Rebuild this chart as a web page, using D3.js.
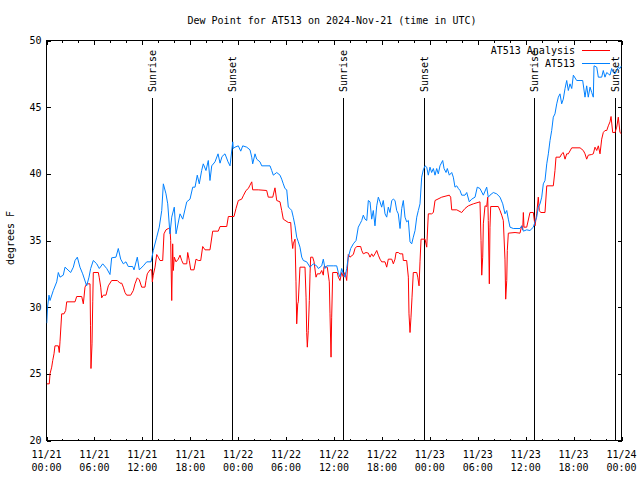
<!DOCTYPE html>
<html><head><meta charset="utf-8">
<script src="https://cdn.jsdelivr.net/npm/d3@7"></script>
<style>
html,body{margin:0;padding:0;background:#fff;}
text{font-family:"DejaVu Sans Mono","Liberation Mono",monospace;font-size:10px;fill:#000;}
</style></head>
<body>
<svg id="chart" width="640" height="480"></svg>
<script>
const title = "Dew Point for AT513 on 2024-Nov-21 (time in UTC)";
const yLabel = "degrees F";
const xTickHours = [0,6,12,18,24,30,36,42,48,54,60,66,72];
const xTickDates = ["11/21","11/21","11/21","11/21","11/22","11/22","11/22","11/22","11/23","11/23","11/23","11/23","11/24"];
const xTickTimes = ["00:00","06:00","12:00","18:00","00:00","06:00","12:00","18:00","00:00","06:00","12:00","18:00","00:00"];
const yTicks = [20,25,30,35,40,45,50];
const sunHours = [13.15,23.23,37.13,47.27,61.05,71.19];
const sunLabels = ["Sunrise","Sunset","Sunrise","Sunset","Sunrise","Sunset"];
const seriesNames = ["AT513 Analysis","AT513"];
const seriesColors = ["#ff0000","#0080ff"];

const anaHours = [0.03,0.35,0.44,0.65,0.78,0.94,1.06,1.48,1.60,1.69,1.90,2.19,2.40,2.53,3.57,3.78,4.41,4.61,4.82,5.03,5.45,5.51,5.57,5.70,5.79,5.86,6.49,6.61,6.79,6.91,7.11,7.45,7.74,8.16,8.87,9.20,9.42,9.62,9.83,10.04,10.54,10.87,11.08,11.37,11.62,11.92,12.33,12.46,12.62,12.96,13.17,13.25,13.37,13.59,13.80,14.00,14.21,14.55,14.71,14.96,15.25,15.46,15.55,15.68,15.80,15.88,16.00,16.22,16.50,16.72,16.93,17.13,17.56,17.68,17.88,18.06,18.47,18.72,19.01,19.31,19.56,19.85,20.47,20.81,21.51,21.73,22.57,22.77,23.48,23.73,24.02,24.44,24.64,24.98,25.27,25.48,25.70,25.82,26.52,27.57,27.77,28.33,28.61,28.83,29.24,29.45,29.65,30.28,30.58,30.70,30.83,30.90,31.12,31.24,31.33,31.46,31.53,31.74,32.37,32.50,32.58,32.66,32.78,32.91,33.00,33.08,33.33,33.50,33.75,33.91,34.25,34.46,34.66,34.75,35.16,35.41,35.50,35.63,35.71,35.84,36.41,36.54,36.75,36.96,37.17,37.38,37.59,37.79,38.00,38.42,38.63,38.84,39.34,39.47,39.67,40.01,40.30,40.51,40.72,40.92,41.13,41.35,41.55,41.76,41.97,42.39,42.60,42.80,43.23,43.43,43.64,43.77,44.05,44.27,44.60,44.68,45.10,45.31,45.39,45.52,45.64,45.77,45.93,46.36,46.49,46.65,46.77,46.90,47.40,47.61,47.81,48.23,48.44,48.65,49.49,50.44,50.61,50.74,51.37,51.99,52.40,52.82,53.45,54.28,54.41,54.50,54.62,54.70,54.91,55.12,55.25,55.32,55.45,55.53,55.62,56.57,56.79,57.00,57.20,57.41,57.50,57.63,57.70,57.83,58.67,59.29,59.50,59.63,59.71,59.79,60.13,60.54,60.96,61.17,61.38,61.58,61.71,61.88,62.42,62.64,63.46,63.67,63.80,64.30,64.51,64.71,64.93,65.14,65.34,65.77,66.81,67.22,67.43,67.64,67.84,68.27,68.47,68.68,68.90,69.10,69.31,69.52,69.72,69.93,70.15,70.35,70.56,70.69,70.90,71.19,71.40,71.60,71.81,72.00];
const anaDew = [24.25,24.25,25.0,25.5,26.0,26.5,27.1,27.1,26.6,27.4,29.5,29.5,29.75,30.4,30.4,30.8,30.8,30.25,31.5,31.75,31.75,28.6,25.4,27.25,30.4,32.6,32.6,32.2,31.5,30.7,30.9,30.9,31.6,32.0,32.0,31.8,31.8,31.5,31.1,30.9,30.9,31.25,31.75,32.2,32.05,31.5,31.5,32.0,32.5,32.8,32.8,31.9,32.4,33.0,33.95,33.75,33.5,33.5,35.5,35.8,35.9,35.9,35.0,30.5,34.75,32.75,33.75,33.4,33.6,33.9,33.5,33.25,33.25,34.1,33.5,32.8,32.8,33.6,33.5,33.5,34.55,34.3,34.3,35.7,35.7,36.05,36.05,36.8,36.8,37.4,38.0,38.1,38.35,38.75,38.9,39.15,39.4,38.8,38.8,38.75,38.25,38.25,38.95,38.0,37.9,37.25,36.6,36.35,36.35,35.1,34.4,34.75,35.1,31.9,28.75,30.25,30.4,33.0,33.0,30.75,28.1,27.0,28.25,30.5,32.5,33.75,33.75,33.4,32.25,32.5,32.5,32.75,32.4,33.05,33.0,31.9,29.5,26.25,29.25,32.6,32.6,32.25,32.0,32.6,32.25,32.6,32.0,33.95,33.75,33.95,34.4,34.55,34.55,34.25,34.0,34.1,34.05,33.75,34.0,33.8,34.0,34.25,33.9,33.6,33.4,33.4,33.0,33.6,33.6,33.25,33.6,34.1,34.1,34.0,34.0,33.5,33.5,32.25,29.5,28.1,29.25,30.75,32.6,32.6,32.25,31.6,33.4,35.1,35.1,34.5,37.0,37.0,37.1,38.0,38.25,38.4,38.25,37.3,37.3,37.1,37.4,37.6,37.75,37.9,35.0,32.4,33.75,36.25,37.6,37.55,38.25,36.5,31.75,36.0,37.55,37.55,37.25,36.9,36.5,33.6,30.6,32.0,34.25,35.55,35.6,35.55,36.1,35.8,37.1,36.0,36.0,37.1,37.1,36.1,37.0,38.25,37.25,37.1,37.1,39.1,39.1,40.25,41.25,41.25,41.5,41.6,41.1,41.5,41.5,41.95,41.95,41.75,41.5,41.1,41.4,41.45,41.5,42.0,41.75,42.1,41.5,42.6,43.1,43.25,43.25,43.6,43.9,44.3,43.1,43.1,43.5,44.25,43.1,43.0];

const obsHours = [0.03,0.13,0.31,0.44,0.85,1.28,1.48,1.69,2.10,2.32,3.03,3.36,3.57,3.86,4.19,4.53,5.03,5.32,5.53,5.86,6.29,6.61,7.04,7.54,7.95,8.16,8.70,8.99,9.29,9.62,9.95,10.24,10.79,10.96,11.37,11.62,12.12,12.55,13.09,13.37,13.80,14.12,14.43,14.63,14.96,15.18,15.46,15.68,16.00,16.22,16.72,17.06,17.56,17.97,18.31,18.60,18.88,19.13,19.43,19.63,19.97,20.26,20.47,20.69,21.10,21.48,21.73,21.98,22.35,22.73,22.98,23.32,23.39,23.60,24.02,24.32,24.57,25.07,25.48,25.70,25.82,26.11,26.32,26.73,26.95,27.99,28.20,28.40,28.83,29.24,29.45,29.65,29.86,30.08,30.28,30.49,30.70,30.90,31.12,31.33,31.53,31.74,31.96,32.16,32.58,33.00,33.41,33.83,34.04,34.46,34.66,34.87,35.09,35.91,36.34,36.54,36.75,36.96,37.17,37.38,37.59,37.79,38.09,38.42,38.76,39.04,39.26,39.47,39.67,39.88,40.10,40.30,40.51,40.72,40.92,41.13,41.35,41.55,41.76,41.97,42.17,42.39,42.60,42.80,43.01,43.23,43.43,43.64,43.85,44.05,44.27,44.48,44.68,44.89,45.10,45.31,45.52,45.73,45.93,46.15,46.36,46.56,46.77,46.98,47.18,47.40,47.61,47.81,48.02,48.23,48.44,48.65,48.86,49.06,49.27,49.61,49.78,50.03,50.19,50.44,50.74,50.94,51.15,51.37,51.57,51.78,51.99,52.40,52.62,52.94,53.24,53.66,53.94,54.28,54.70,55.12,55.32,55.53,55.95,56.37,56.79,57.13,57.41,57.63,57.83,58.04,58.45,59.29,59.50,59.71,60.13,60.54,60.96,61.17,61.38,61.58,61.80,62.01,62.21,62.42,62.64,62.84,63.05,63.26,63.46,63.67,63.89,64.09,64.30,64.51,64.71,64.93,65.14,65.34,65.55,65.77,65.97,66.39,66.81,67.14,67.43,67.64,67.84,68.06,68.27,68.47,68.56,68.90,69.10,69.52,69.72,69.93,70.15,70.35,70.56,70.77,70.98,71.19,71.40,71.60,71.81,72.00];
const obsDew = [28.8,30.0,30.9,30.5,31.25,31.9,32.6,32.25,32.4,33.0,32.6,33.0,33.5,33.75,33.0,32.5,31.6,32.25,32.9,33.5,33.25,32.9,33.25,32.9,32.45,33.7,33.75,34.4,33.6,33.25,33.4,33.05,33.05,32.8,33.75,32.8,33.1,33.4,33.4,34.25,35.25,36.0,37.25,39.25,38.5,37.75,35.5,36.75,37.5,35.5,37.0,36.6,37.9,38.1,39.0,39.0,39.9,39.25,40.25,40.75,40.25,41.0,39.5,40.6,40.9,41.5,40.8,41.3,41.5,40.9,40.6,42.4,41.9,42.0,42.1,41.7,42.1,42.0,41.8,41.25,40.75,41.5,41.1,40.9,40.6,40.6,40.25,39.9,40.1,39.9,39.6,39.25,38.9,38.8,37.5,37.4,37.25,36.75,36.1,35.25,34.9,34.5,33.75,33.5,33.4,33.0,33.25,33.1,32.9,33.1,33.6,32.9,33.1,33.1,33.1,32.6,32.25,32.9,32.5,32.25,32.9,33.75,34.4,34.75,35.0,36.0,36.25,36.5,36.9,36.6,36.5,38.0,37.9,36.6,37.25,36.1,37.6,38.25,37.9,37.5,38.0,37.0,36.75,37.5,37.1,38.0,38.1,38.0,37.25,37.0,35.9,37.4,38.0,36.75,36.4,36.5,34.9,34.75,35.25,35.75,36.75,37.25,37.75,39.75,40.3,40.6,40.5,39.9,40.5,40.1,40.4,39.9,40.4,40.0,40.6,41.0,40.4,40.1,40.4,39.9,40.1,39.75,39.0,39.1,38.9,38.75,38.4,38.4,38.6,37.9,38.1,38.25,39.0,38.9,38.4,39.0,38.25,38.4,38.6,38.5,38.25,37.75,37.0,37.25,36.6,36.0,35.9,35.9,36.1,35.7,35.8,35.75,36.0,36.4,36.75,37.5,37.75,38.25,39.25,39.5,40.75,41.5,42.5,43.25,44.25,44.5,45.25,45.75,46.0,45.25,45.6,46.4,47.0,46.25,46.75,46.4,47.4,47.0,47.0,47.0,45.75,46.6,45.75,46.5,46.1,45.75,48.1,48.0,47.25,47.25,47.75,47.25,47.6,47.5,47.4,47.9,47.6,47.5,47.75,48.0,47.9,48.1];

const svg = d3.select("#chart");
const L = 46.5, R = 621.5, T = 40.5, B = 440.5;
const x = d3.scaleLinear().domain([0,72]).range([L,R]);
const y = d3.scaleLinear().domain([20,50]).range([B,T]);

svg.append("rect").attr("width",640).attr("height",480).attr("fill","#fff");

// title
svg.append("text").attr("x",332).attr("y",24).attr("text-anchor","middle").text(title);

// y label
svg.append("text").attr("transform","translate(14,238) rotate(-90)").attr("text-anchor","middle").text(yLabel);

const g = svg.append("g").attr("shape-rendering","crispEdges");

// x ticks every 2h (major every 6h)
const minorX = d3.range(0,73,2);
minorX.forEach(h => {
  const len = (h % 6 === 0) ? 4 : 2;
  const xx = Math.round(x(h))+0.5;
  g.append("line").attr("x1",xx).attr("x2",xx).attr("y1",B).attr("y2",B-len).attr("stroke","#000");
  g.append("line").attr("x1",xx).attr("x2",xx).attr("y1",T).attr("y2",T+len).attr("stroke","#000");
});
yTicks.forEach(v => {
  const yy = Math.round(y(v))+0.5;
  g.append("line").attr("x1",L).attr("x2",L+4).attr("y1",yy).attr("y2",yy).attr("stroke","#000");
  g.append("line").attr("x1",R).attr("x2",R-4).attr("y1",yy).attr("y2",yy).attr("stroke","#000");
  svg.append("text").attr("x",L-5).attr("y",y(v)).attr("dy","0.35em").attr("text-anchor","end").text(v);
});

xTickHours.forEach((h,i) => {
  const t = svg.append("text").attr("x",x(h)).attr("y",458).attr("text-anchor","middle");
  t.append("tspan").attr("x",x(h)).text(xTickDates[i]);
  t.append("tspan").attr("x",x(h)).attr("dy",13).text(xTickTimes[i]);
});

// sunrise / sunset
sunHours.forEach((h,i) => {
  const xx = Math.round(x(h))+0.5;
  g.append("line").attr("x1",xx).attr("x2",xx).attr("y1",98).attr("y2",B).attr("stroke","#000");
  svg.append("text").attr("transform",`translate(${xx+3.5},92) rotate(-90)`).attr("text-anchor","start").text(sunLabels[i]);
});

// frame
g.append("rect").attr("x",L).attr("y",T).attr("width",R-L).attr("height",B-T).attr("fill","none").attr("stroke","#000");

// series
const line = d3.line().x(d=>x(d[0])).y(d=>y(d[1]));
const series = [
  anaHours.map((h,i)=>[h,anaDew[i]]),
  obsHours.map((h,i)=>[h,obsDew[i]])
];
svg.append("clipPath").attr("id","clip").append("rect").attr("x",L).attr("y",T).attr("width",R-L).attr("height",B-T);
series.forEach((s,i) => {
  svg.append("path").attr("d",line(s)).attr("fill","none").attr("stroke",seriesColors[i]).attr("stroke-width",1).attr("clip-path","url(#clip)");
});

// legend
seriesNames.forEach((n,i) => {
  const yy = 50 + i*13;
  svg.append("text").attr("x",575).attr("y",yy).attr("dy","0.35em").attr("text-anchor","end").text(n);
  g.append("line").attr("x1",582).attr("x2",610).attr("y1",yy+0.5).attr("y2",yy+0.5).attr("stroke",seriesColors[i]);
});
</script>
</body></html>
